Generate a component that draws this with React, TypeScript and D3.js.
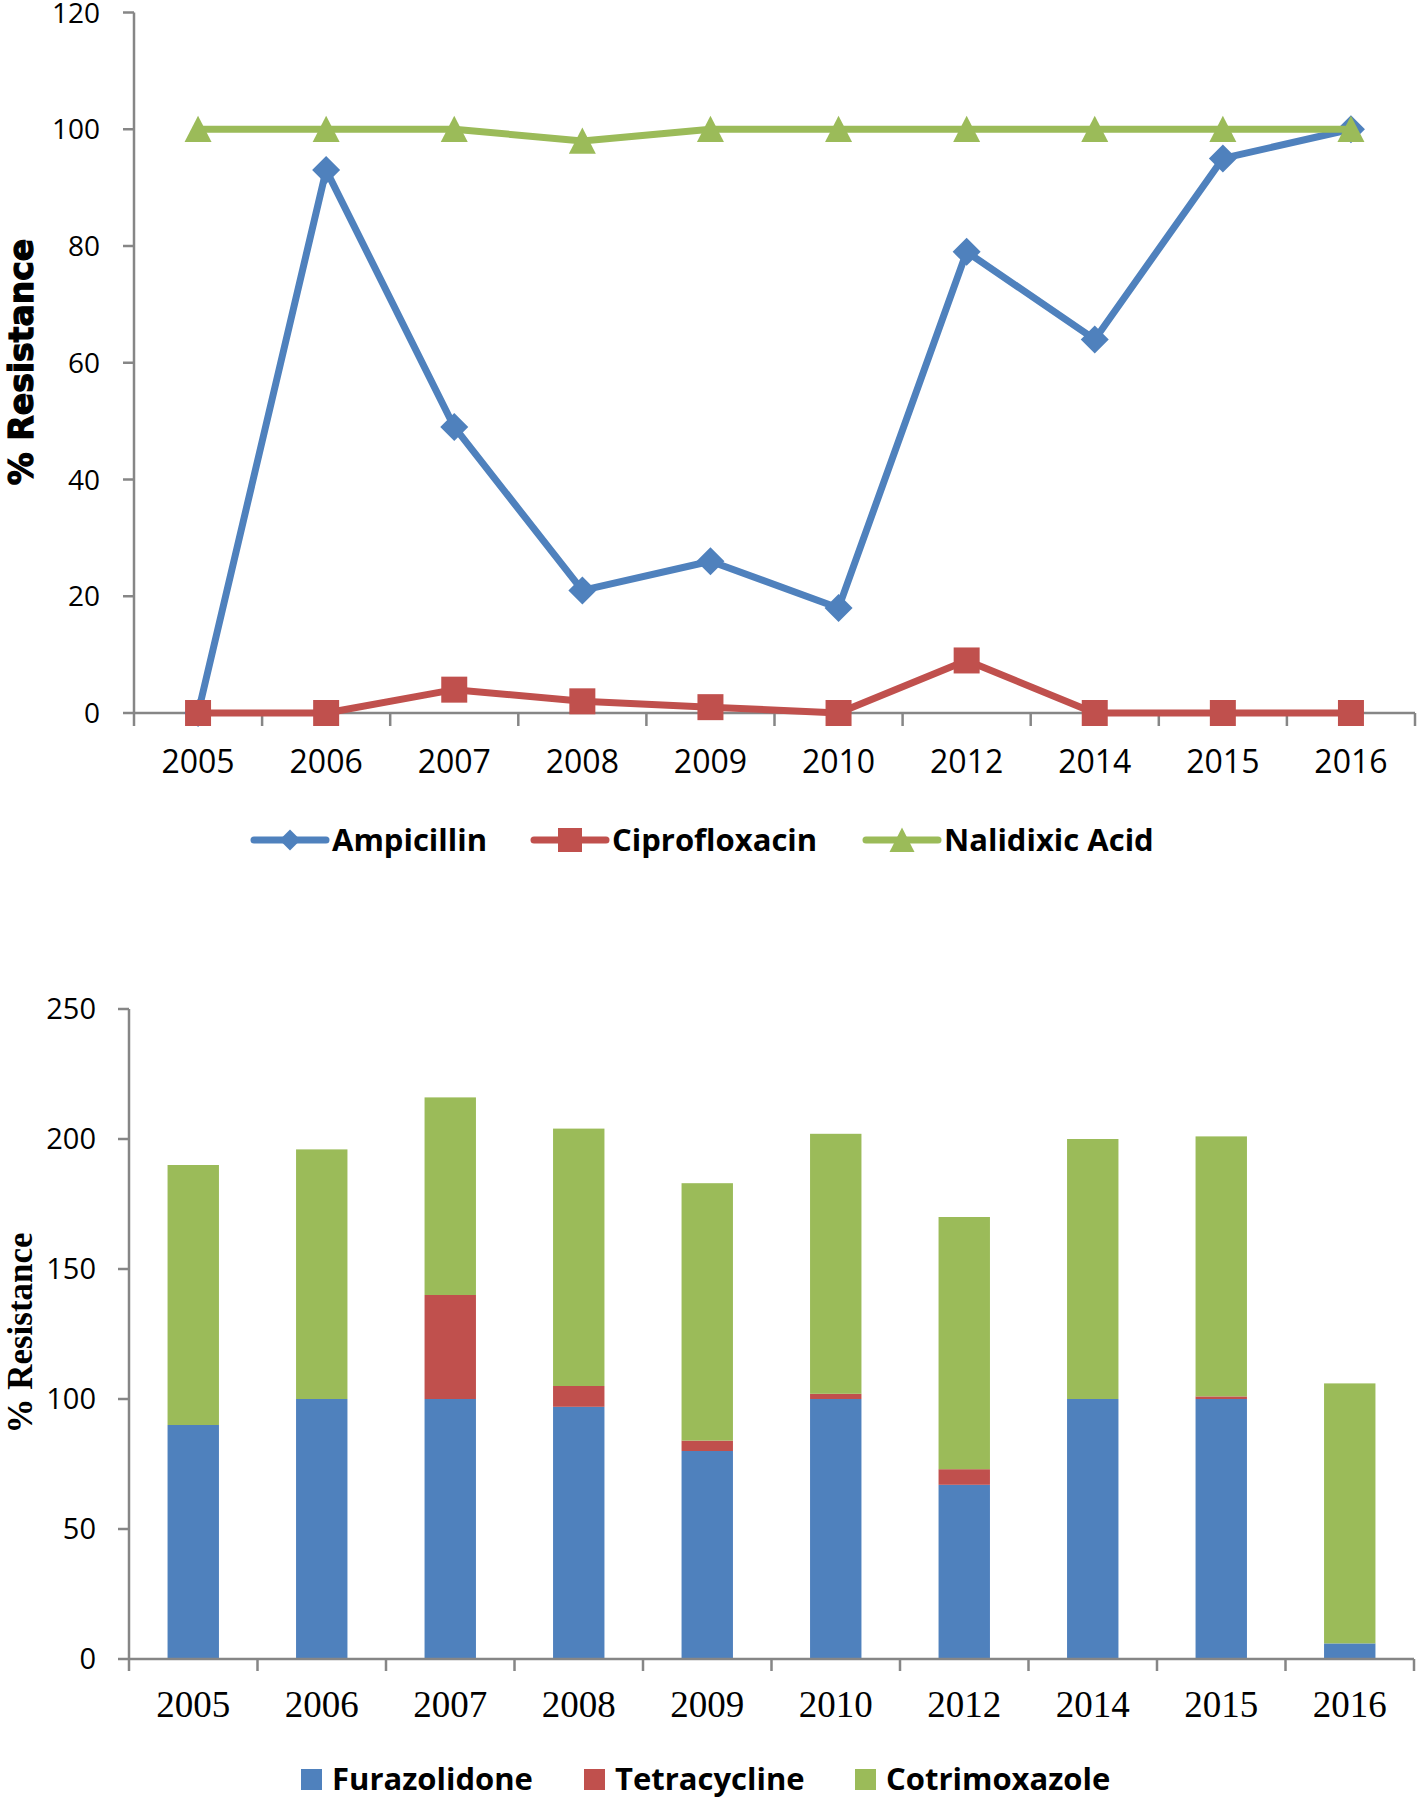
import React from 'react';
import * as d3 from 'd3';

const years = ['2005', '2006', '2007', '2008', '2009', '2010', '2012', '2014', '2015', '2016'];

// Top chart (line)
const ampicillin = [0, 93, 49, 21, 26, 18, 79, 64, 95, 100];
const ciprofloxacin = [0, 0, 4, 2, 1, 0, 9, 0, 0, 0];
const nalidixicAcid = [100, 100, 100, 98, 100, 100, 100, 100, 100, 100];
const topTicks = [0, 20, 40, 60, 80, 100, 120];

// Bottom chart (stacked bars)
const furazolidone = [90, 100, 100, 97, 80, 100, 67, 100, 100, 6];
const tetracycline = [0, 0, 40, 8, 4, 2, 6, 0, 1, 0];
const cotrimoxazole = [100, 96, 76, 99, 99, 100, 97, 100, 100, 100];
const bottomTicks = [0, 50, 100, 150, 200, 250];

const BLUE = '#4F81BD';
const RED = '#C0504D';
const GREEN = '#9BBB59';
const AXIS = '#868686';
const SANS = '"Open Sans", Lato, sans-serif';
const SERIF = '"Liberation Serif", "Times New Roman", serif';

type Marker = 'diamond' | 'square' | 'triangle';

function markerPath(kind: Marker, s: number): string {
  const h = s / 2;
  if (kind === 'diamond') return `M0,${-h}L${h},0L0,${h}L${-h},0Z`;
  if (kind === 'square') return `M${-h},${-h}H${h}V${h}H${-h}Z`;
  return `M0,${-h}L${h},${h * 0.95}L${-h},${h * 0.95}Z`;
}

export default function App() {
  // ---------- top chart ----------
  const tx = d3.scaleBand<string>().domain(years).range([134, 1415]);
  const ty = d3.scaleLinear().domain([0, 120]).range([713, 12.5]);
  const tcx = (yr: string) => (tx(yr) as number) + tx.bandwidth() / 2;

  const lineSeries: { name: string; values: number[]; color: string; marker: Marker; size: number; lsize: number }[] = [
    { name: 'Ampicillin', values: ampicillin, color: BLUE, marker: 'diamond', size: 28, lsize: 21 },
    { name: 'Ciprofloxacin', values: ciprofloxacin, color: RED, marker: 'square', size: 26, lsize: 24 },
    { name: 'Nalidixic Acid', values: nalidixicAcid, color: GREEN, marker: 'triangle', size: 27, lsize: 25 },
  ];
  const legendTopX = [254, 534, 866];

  const lineGen = d3
    .line<number>()
    .x((_, i) => tcx(years[i]))
    .y((v) => ty(v));

  // ---------- bottom chart ----------
  const bx = d3.scaleBand<string>().domain(years).range([129, 1414]);
  const by = d3.scaleLinear().domain([0, 250]).range([1659, 1009]);
  const barW = bx.bandwidth() * 0.4;

  const rows = years.map((yr, i) => ({
    year: yr,
    Furazolidone: furazolidone[i],
    Tetracycline: tetracycline[i],
    Cotrimoxazole: cotrimoxazole[i],
  }));
  const keys = ['Furazolidone', 'Tetracycline', 'Cotrimoxazole'];
  const barColors = [BLUE, RED, GREEN];
  const stacked = d3.stack<any>().keys(keys)(rows);
  const legendBottomX = [301, 584, 855];

  return (
    <svg
      width={1417}
      height={1798}
      style={{ position: 'absolute', left: 0, top: 0, background: '#fff' }}
    >
      <rect x={0} y={0} width={1417} height={1798} fill="#fff" />

      {/* ===== TOP CHART ===== */}
      {/* y axis */}
      <line x1={134} x2={134} y1={ty(120)} y2={ty(0)} stroke={AXIS} strokeWidth={2.5} />
      {topTicks.map((t) => (
        <g key={'tt' + t}>
          <line x1={123} x2={134} y1={ty(t)} y2={ty(t)} stroke={AXIS} strokeWidth={2.5} />
          <text
            x={100}
            y={ty(t)}
            dy="0.36em"
            textAnchor="end"
            fontFamily={SANS}
            fontSize={28}
            fill="#000"
          >
            {t}
          </text>
        </g>
      ))}
      {/* x axis */}
      <line x1={134} x2={1415} y1={ty(0)} y2={ty(0)} stroke={AXIS} strokeWidth={2.5} />
      {years.map((yr) => (
        <line
          key={'txt' + yr}
          x1={tx(yr) as number}
          x2={tx(yr) as number}
          y1={ty(0)}
          y2={ty(0) + 13}
          stroke={AXIS}
          strokeWidth={2.5}
        />
      ))}
      <line x1={1415} x2={1415} y1={ty(0)} y2={ty(0) + 13} stroke={AXIS} strokeWidth={2.5} />
      {years.map((yr) => (
        <text
          key={'txl' + yr}
          x={tcx(yr)}
          y={773}
          textAnchor="middle"
          fontFamily={SANS}
          fontSize={32}
          fill="#000"
        >
          {yr}
        </text>
      ))}
      {/* y title */}
      <text
        transform={`translate(33,${362}) rotate(-90)`}
        textAnchor="middle"
        fontFamily='"DejaVu Sans", sans-serif'
        fontWeight={900}
        fontSize={33}
        fill="#000"
        stroke="#000"
        strokeWidth={1.2}
      >
        % Resistance
      </text>

      {/* lines */}
      {lineSeries.map((s) => (
        <g key={s.name}>
          <path
            d={lineGen(s.values) as string}
            fill="none"
            stroke={s.color}
            strokeWidth={7}
            strokeLinejoin="round"
            strokeLinecap="round"
          />
          {s.values.map((v, i) => (
            <path
              key={i}
              d={markerPath(s.marker, s.size)}
              transform={`translate(${tcx(years[i])},${ty(v)})`}
              fill={s.color}
            />
          ))}
        </g>
      ))}

      {/* top legend */}
      {lineSeries.map((s, i) => (
        <g key={'lg' + s.name} transform={`translate(${legendTopX[i]},840)`}>
          <line x1={0} x2={72} y1={0} y2={0} stroke={s.color} strokeWidth={7} strokeLinecap="round" />
          <path d={markerPath(s.marker, s.lsize)} transform="translate(36,0)" fill={s.color} />
          <text x={78} y={11} fontFamily={SANS} fontWeight={700} fontSize={31} fill="#000">
            {s.name}
          </text>
        </g>
      ))}

      {/* ===== BOTTOM CHART ===== */}
      {stacked.map((layer, li) => (
        <g key={'layer' + li}>
          {layer.map((d, i) => (
            <rect
              key={i}
              x={(bx(years[i]) as number) + (bx.bandwidth() - barW) / 2}
              y={by(d[1])}
              width={barW}
              height={Math.max(0, by(d[0]) - by(d[1]))}
              fill={barColors[li]}
            />
          ))}
        </g>
      ))}
      {/* y axis */}
      <line x1={129} x2={129} y1={by(250)} y2={by(0)} stroke={AXIS} strokeWidth={2.5} />
      {bottomTicks.map((t) => (
        <g key={'bt' + t}>
          <line x1={118} x2={129} y1={by(t)} y2={by(t)} stroke={AXIS} strokeWidth={2.5} />
          <text
            x={96}
            y={by(t)}
            dy="0.36em"
            textAnchor="end"
            fontFamily={SANS}
            fontSize={29}
            fill="#000"
          >
            {t}
          </text>
        </g>
      ))}
      {/* x axis */}
      <line x1={129} x2={1414} y1={by(0)} y2={by(0)} stroke={AXIS} strokeWidth={2.5} />
      {years.map((yr) => (
        <line
          key={'bxt' + yr}
          x1={bx(yr) as number}
          x2={bx(yr) as number}
          y1={by(0)}
          y2={by(0) + 12}
          stroke={AXIS}
          strokeWidth={2.5}
        />
      ))}
      <line x1={1414} x2={1414} y1={by(0)} y2={by(0) + 12} stroke={AXIS} strokeWidth={2.5} />
      {years.map((yr) => (
        <text
          key={'bxl' + yr}
          x={(bx(yr) as number) + bx.bandwidth() / 2}
          y={1717}
          textAnchor="middle"
          fontFamily={SERIF}
          fontSize={37}
          fill="#000"
        >
          {yr}
        </text>
      ))}
      {/* y title */}
      <text
        transform={`translate(32,${1333}) rotate(-90)`}
        textAnchor="middle"
        fontFamily={SERIF}
        fontWeight={700}
        fontSize={35}
        fill="#000"
      >
        % Resistance
      </text>

      {/* bottom legend */}
      {keys.map((k, i) => (
        <g key={'bl' + k} transform={`translate(${legendBottomX[i]},1769)`}>
          <rect x={0} y={0} width={21} height={21} fill={barColors[i]} />
          <text x={31} y={21} fontFamily={SANS} fontWeight={700} fontSize={31} fill="#000">
            {k}
          </text>
        </g>
      ))}
    </svg>
  );
}
